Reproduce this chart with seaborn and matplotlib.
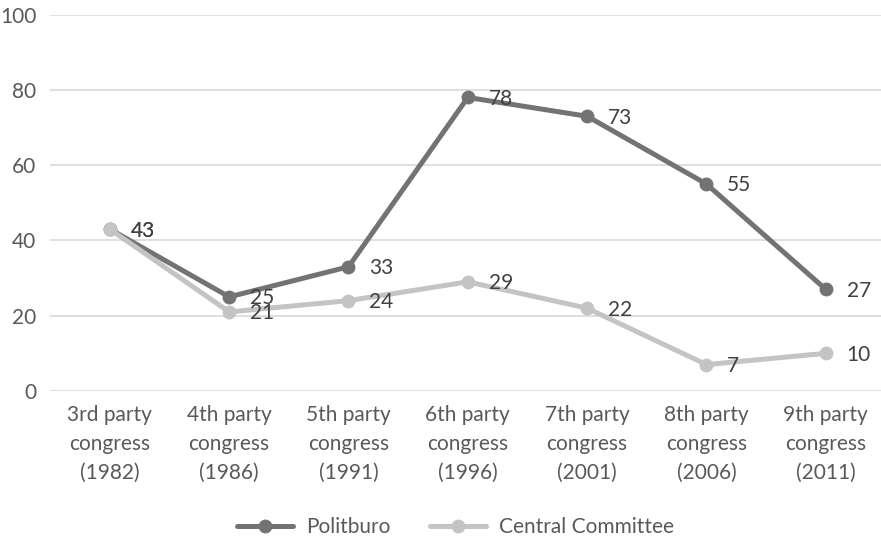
import numpy as np
import pandas as pd
import seaborn as sns
import matplotlib.pyplot as plt

# Data
congresses = [
    "3rd party\ncongress\n(1982)",
    "4th party\ncongress\n(1986)",
    "5th party\ncongress\n(1991)",
    "6th party\ncongress\n(1996)",
    "7th party\ncongress\n(2001)",
    "8th party\ncongress\n(2006)",
    "9th party\ncongress\n(2011)",
]
politburo = [43, 25, 33, 78, 73, 55, 27]
central_committee = [43, 21, 24, 29, 22, 7, 10]

pos = np.arange(len(congresses))
data = pd.concat([
    pd.DataFrame({"pos": pos, "value": politburo, "body": "Politburo"}),
    pd.DataFrame({"pos": pos, "value": central_committee, "body": "Central Committee"}),
], ignore_index=True)

sns.set_style("white")
plt.rcParams["font.family"] = ["Lato", "DejaVu Sans"]

colors = {"Politburo": "#737373", "Central Committee": "#c4c4c4"}
text_color = "#595959"
fs = 15

fig = plt.figure(figsize=(8.81, 5.43), dpi=100)
ax = fig.add_axes([0.057, 0.28, 0.948, 0.693])

sns.lineplot(
    data=data, x="pos", y="value", hue="body", palette=colors,
    marker="o", markersize=10, markeredgewidth=0, linewidth=3.6,
    ax=ax, zorder=3,
)

# Data labels
for body, vals in [("Central Committee", central_committee), ("Politburo", politburo)]:
    for x, v in zip(pos, vals):
        ax.annotate(str(v), (x, v), xytext=(15, -1), textcoords="offset points",
                    ha="left", va="center", fontsize=fs, color="#404040", zorder=4)

ax.set_xlim(-0.5, len(congresses) - 0.5)
ax.set_ylim(0, 100)
ax.set_yticks(range(0, 101, 20))
ax.set_xticks(pos)
ax.set_xticklabels(congresses, linespacing=1.55)
ax.tick_params(axis="both", labelsize=fs, labelcolor=text_color, length=0)
ax.tick_params(axis="x", pad=10)
ax.tick_params(axis="y", pad=10)
ax.yaxis.grid(True, color="#d9d9d9", linewidth=1.2)
ax.set_axisbelow(True)
for s in ax.spines.values():
    s.set_visible(False)
ax.set_xlabel("")
ax.set_ylabel("")

ax.legend(loc="center", bbox_to_anchor=(0.485, -0.362), ncol=2, frameon=False,
          fontsize=fs, labelcolor=text_color, handlelength=2.7,
          handletextpad=0.6, columnspacing=1.9)

plt.savefig("out.png", dpi=100)
